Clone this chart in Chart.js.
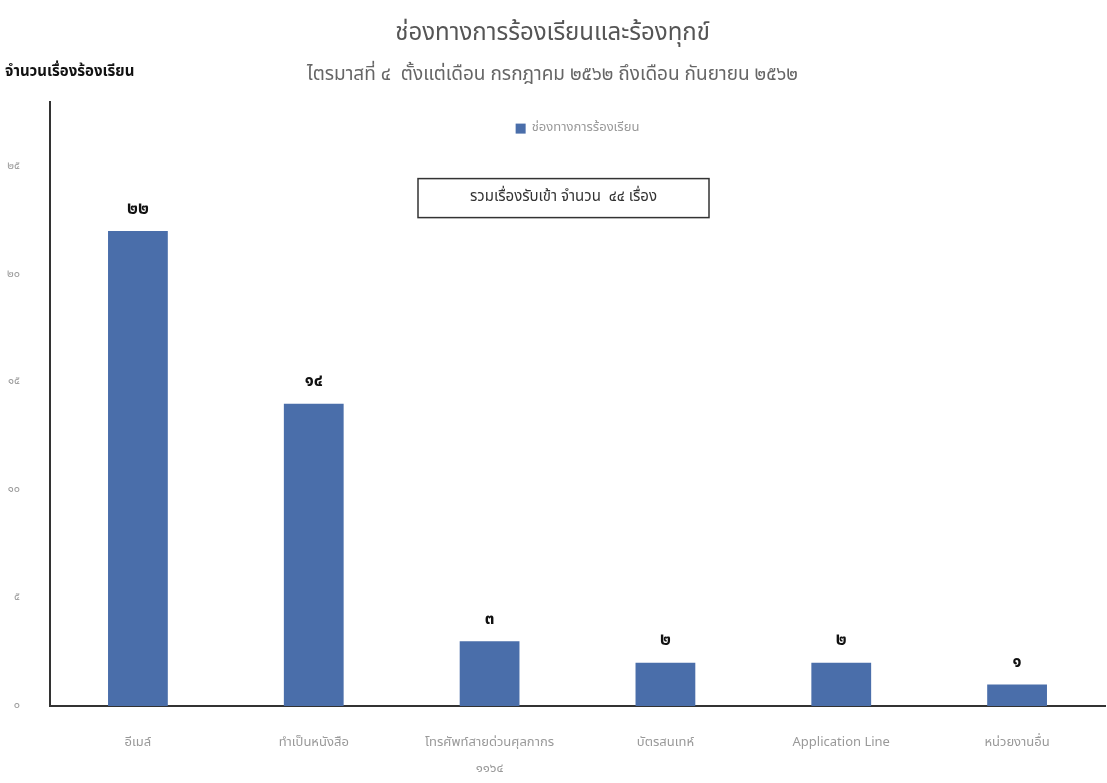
<!DOCTYPE html>
<html>
<head>
<meta charset="utf-8">
<script src="https://cdn.jsdelivr.net/npm/chart.js@4.4.1/dist/chart.umd.min.js"></script>
<style>
  body { margin: 0; background: #fff; }
  #wrap { width: 1107px; height: 783px; }
</style>
</head>
<body>
<div id="wrap"><canvas id="channelChart"></canvas></div>
<script>
const categories = [
    'อีเมล์',
    'ทำเป็นหนังสือ',
    ['โทรศัพท์สายด่วนศุลกากร', '๑๑๖๔'],
    'บัตรสนเทห์',
    'Application Line',
    'หน่วยงานอื่น'
];
const complaintCounts = [22, 14, 3, 2, 2, 1];
const yTickValues = [0, 5, 10, 15, 20, 25];

const seriesName = 'ช่องทางการร้องเรียน';
const chartTitle = 'ช่องทางการร้องเรียนและร้องทุกข์';
const chartSubtitle = 'ไตรมาสที่ ๔  ตั้งแต่เดือน กรกฎาคม ๒๕๖๒ ถึงเดือน กันยายน ๒๕๖๒';
const yAxisTitle = 'จำนวนเรื่องร้องเรียน';

const fontFamily = "'Noto Sans Thai', 'Loma', 'Garuda', 'Norasi', 'Tahoma', sans-serif";
const thaiDigits = '๐๑๒๓๔๕๖๗๘๙';
const barColor = '#4a6eaa';

function toThai(n) {
    return String(n).replace(/[0-9]/g, d => thaiDigits[d]);
}

// value labels, legend, total box and the y-axis caption
const extrasPlugin = {
    id: 'extras',
    afterDatasetsDraw(chart) {
        const ctx = chart.ctx;
        const area = chart.chartArea;
        const meta = chart.getDatasetMeta(0);
        const midX = (area.left + area.right) / 2;

        ctx.save();
        ctx.fillStyle = '#111';
        ctx.font = 'bold 17px ' + fontFamily;
        ctx.textAlign = 'center';
        ctx.textBaseline = 'middle';
        meta.data.forEach(function (bar, i) {
            ctx.fillText(toThai(complaintCounts[i]), bar.x, bar.y - 21);
        });

        // legend
        ctx.font = '13px ' + fontFamily;
        const legW = ctx.measureText(seriesName).width;
        const legX = midX - (legW + 16) / 2;
        const legY = area.top + 27;
        ctx.fillStyle = barColor;
        ctx.fillRect(legX, legY - 5, 10, 10);
        ctx.fillStyle = '#999';
        ctx.textAlign = 'left';
        ctx.fillText(seriesName, legX + 16, legY);

        // total box
        const total = complaintCounts.reduce((a, b) => a + b, 0);
        const boxW = 291, boxH = 39;
        const boxX = midX - 14 - boxW / 2;
        const boxY = area.top + 77;
        ctx.fillStyle = '#fff';
        ctx.fillRect(boxX, boxY, boxW, boxH);
        ctx.strokeStyle = '#333';
        ctx.lineWidth = 1.5;
        ctx.strokeRect(boxX, boxY, boxW, boxH);
        ctx.fillStyle = '#333';
        ctx.font = '15px ' + fontFamily;
        ctx.textAlign = 'center';
        ctx.fillText('รวมเรื่องรับเข้า จำนวน  ' + toThai(total) + ' เรื่อง', boxX + boxW / 2, boxY + boxH / 2);

        ctx.fillStyle = '#111';
        ctx.font = 'bold 15px ' + fontFamily;
        ctx.textAlign = 'left';
        ctx.fillText(yAxisTitle, 5, 73);
        ctx.restore();
    }
};

const ctx = document.getElementById('channelChart');

new Chart(ctx, {
    type: 'bar',
    data: {
        labels: categories,
        datasets: [{
            label: seriesName,
            data: complaintCounts,
            backgroundColor: barColor,
            barPercentage: 0.34,
            categoryPercentage: 1.0
        }]
    },
    options: {
        responsive: true,
        maintainAspectRatio: false,
        animation: false,
        layout: { padding: { top: 21, right: 2, left: 0, bottom: 0 } },
        plugins: {
            title: {
                display: true,
                text: chartTitle,
                color: '#555',
                font: { family: fontFamily, size: 24, weight: 'normal' },
                padding: { top: 0, bottom: 13 }
            },
            subtitle: {
                display: true,
                text: chartSubtitle,
                color: '#666',
                font: { family: fontFamily, size: 19 },
                padding: { top: 2, bottom: 14 }
            },
            legend: { display: false },
            tooltip: { enabled: false }
        },
        scales: {
            x: {
                grid: { display: false },
                border: { display: true, color: '#333', width: 2 },
                afterFit: function (scale) { scale.height = 77; },
                ticks: {
                    color: '#999',
                    padding: 16,
                    maxRotation: 0,
                    autoSkip: false,
                    font: { family: fontFamily, size: 13, lineHeight: 2.0 }
                }
            },
            y: {
                min: 0,
                max: 28,
                grid: { display: false },
                border: { display: true, color: '#333', width: 2 },
                afterFit: function (scale) { scale.width = 50; },
                afterBuildTicks: function (scale) {
                    scale.ticks = yTickValues.map(v => ({ value: v }));
                },
                ticks: {
                    color: '#999',
                    padding: 22,
                    font: { family: fontFamily, size: 11 },
                    callback: function (value) { return toThai(value); }
                }
            }
        }
    },
    plugins: [extrasPlugin]
});
</script>
</body>
</html>
